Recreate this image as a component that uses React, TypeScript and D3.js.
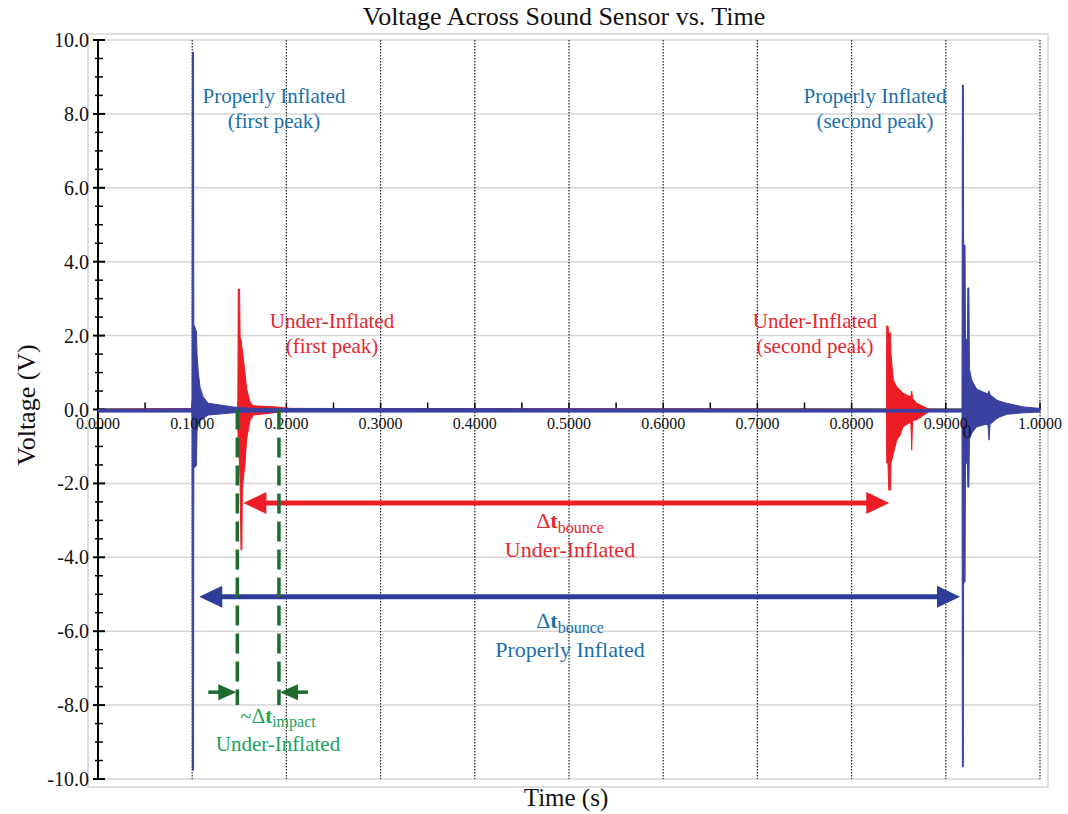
import React from "react";
import * as d3 from "d3";

// Envelope of the sound-sensor trace: properly inflated ball (blue)
const properT = [0, 0.0996, 0.0999, 0.1002, 0.1014, 0.1017, 0.1046, 0.1051, 0.1065, 0.1083, 0.1115, 0.1168, 0.1433, 0.1614, 0.9168, 0.9172, 0.9176, 0.9186, 0.9189, 0.9204, 0.9209, 0.9229, 0.9234, 0.9245, 0.9251, 0.9275, 0.9328, 0.9427, 0.9448, 0.9459, 0.947, 0.954, 0.9575, 0.9647, 0.982, 1.0];
const properHi = [0.0, 0.02, 0.3, 9.67, 9.67, 2.3, 2.1, 1.5, 1.0, 0.6, 0.35, 0.17, 0.07, 0.03, 0.0, 0.05, 8.78, 8.78, 4.45, 4.45, 1.9, 1.9, 3.29, 3.29, 1.1, 0.8, 0.55, 0.44, 0.42, 0.5, 0.4, 0.26, 0.22, 0.17, 0.07, 0.03];
const properLo = [-0.07, -0.07, -0.3, -9.76, -9.76, -1.6, -1.5, -0.6, -0.4, -0.3, -0.25, -0.15, -0.09, -0.07, -0.07, -0.08, -9.67, -9.67, -4.67, -4.67, -1.5, -1.4, -2.1, -2.1, -0.8, -0.64, -0.47, -0.4, -0.42, -0.83, -0.4, -0.25, -0.2, -0.13, -0.09, -0.07];

// Envelope of the trace for the under-inflated ball (red)
const underT = [0, 0.1481, 0.1485, 0.1489, 0.1503, 0.1509, 0.1518, 0.1527, 0.1533, 0.156, 0.1578, 0.1614, 0.1649, 0.1897, 0.2038, 0.8364, 0.837, 0.8373, 0.8386, 0.8395, 0.8413, 0.8418, 0.8443, 0.8479, 0.8514, 0.8546, 0.862, 0.863, 0.8638, 0.8648, 0.8691, 0.8797, 0.8832, 1.0];
const underHi = [0.0, 0.04, 0.3, 3.26, 3.26, 1.95, 1.9, 1.7, 1.6, 1.0, 0.55, 0.2, 0.1, 0.07, 0.03, 0.0, 0.05, 2.26, 2.26, 2.07, 2.07, 1.5, 0.8, 0.61, 0.53, 0.44, 0.35, 0.36, 0.5, 0.3, 0.17, 0.04, 0.0, 0.0];
const underLo = [-0.03, -0.04, -0.5, -1.0, -1.5, -2.1, -3.8, -3.8, -2.1, -1.5, -0.8, -0.3, -0.15, -0.08, -0.03, -0.03, -0.05, -1.45, -1.45, -2.18, -2.18, -1.45, -1.2, -0.83, -0.7, -0.47, -0.35, -0.4, -1.1, -0.3, -0.28, -0.1, -0.03, -0.03];

// Axis ticks
const xTicks = [0, 0.1, 0.2, 0.3, 0.4, 0.5, 0.6, 0.7, 0.8, 0.9, 1.0];
const xTickLabels = ["0.0000", "0.1000", "0.2000", "0.3000", "0.4000", "0.5000", "0.6000", "0.7000", "0.8000", "0.9000", "1.0000"];
const xMinorTicks = [0.05, 0.15, 0.25, 0.35, 0.45, 0.55, 0.65, 0.75, 0.85, 0.95];
const yTicks = [10, 8, 6, 4, 2, 0, -2, -4, -6, -8, -10];
const yTickLabels = ["10.0", "8.0", "6.0", "4.0", "2.0", "0.0", "-2.0", "-4.0", "-6.0", "-8.0", "-10.0"];
const yMinorTicks = [9.5, 9, 8.5, 7.5, 7, 6.5, 5.5, 5, 4.5, 3.5, 3, 2.5, 1.5, 1, 0.5, -0.5, -1, -1.5, -2.5, -3, -3.5, -4.5, -5, -5.5, -6.5, -7, -7.5, -8.5, -9, -9.5];

// Annotated intervals (time in s, voltage level in V)
const bounceUnder = [0.1543, 0.84];
const bounceUnderLevel = -2.53;
const bounceProper = [0.1075, 0.9151];
const bounceProperLevel = -5.07;
const impactUnder = [0.1479, 0.1921];
const impactArrowLevel = -7.65;
const impactLineBottom = -8.0;

const W = 1068;
const H = 814;
const FONT = "'Liberation Serif', 'Times New Roman', serif";

const BLUE_TRACE = "#3a41a0";
const RED_TRACE = "#ee1c25";
const BLUE_TEXT = "#1b6fae";
const RED_TEXT = "#e8262d";
const BLUE_ARROW = "#2f3c98";
const GREEN_TEXT = "#1aa35a";
const GREEN_MARK = "#1e6b30";

export default function App() {
  const x = d3.scaleLinear().domain([0, 1]).range([98, 1040]);
  const y = d3.scaleLinear().domain([-10, 10]).range([779, 40]);
  const y0 = y(0);

  const envelope = (t: number[], hi: number[], lo: number[]) =>
    d3
      .area<number>()
      .x((_, i) => x(t[i]))
      .y0((_, i) => y(lo[i]))
      .y1((_, i) => y(hi[i]))(t) || "";

  const properPath = envelope(properT, properHi, properLo);
  const underPath = envelope(underT, underHi, underLo);

  // double-headed horizontal arrow
  const doubleArrow = (t0: number, t1: number, v: number, color: string, key: string) => {
    const xa = x(t0);
    const xb = x(t1);
    const yy = y(v);
    const hl = 23;
    const hw = 11;
    return (
      <g key={key}>
        <line x1={xa + hl - 2} x2={xb - hl + 2} y1={yy} y2={yy} stroke={color} strokeWidth={5} />
        <polygon points={`${xa},${yy} ${xa + hl},${yy - hw} ${xa + hl},${yy + hw}`} fill={color} />
        <polygon points={`${xb},${yy} ${xb - hl},${yy - hw} ${xb - hl},${yy + hw}`} fill={color} />
      </g>
    );
  };

  const ga = x(impactUnder[0]);
  const gb = x(impactUnder[1]);
  const gy = y(impactArrowLevel);

  return (
    <svg
      width={W}
      height={H}
      viewBox={`0 0 ${W} ${H}`}
      fontFamily={FONT}
      style={{ position: "absolute", left: 0, top: 0, background: "#fff" }}
    >
      {/* frame */}
      <rect x={88} y={34} width={960} height={753} fill="none" stroke="#d4d4d4" strokeWidth={1.5} />

      {/* horizontal grid */}
      {yTicks.map((v) => (
        <line key={"gy" + v} x1={x(0)} x2={x(1)} y1={y(v)} y2={y(v)} stroke="#d6d6d6" strokeWidth={1.5} />
      ))}

      {/* vertical dotted grid */}
      {xTicks.slice(1).map((t) => (
        <line
          key={"gx" + t}
          x1={x(t)}
          x2={x(t)}
          y1={y(10)}
          y2={y(-10)}
          stroke="#222"
          strokeWidth={1.2}
          strokeDasharray="1.5,1.5"
        />
      ))}

      {/* y axis */}
      <line x1={x(0)} x2={x(0)} y1={y(10)} y2={y(-10)} stroke="#000" strokeWidth={2} />
      {yTicks.map((v) => (
        <line key={"ty" + v} x1={x(0) - 5} x2={x(0) + 7} y1={y(v)} y2={y(v)} stroke="#000" strokeWidth={2} />
      ))}
      {yMinorTicks.map((v) => (
        <line key={"my" + v} x1={x(0) - 3} x2={x(0) + 5} y1={y(v)} y2={y(v)} stroke="#000" strokeWidth={1.5} />
      ))}
      {yTicks.map((v, i) => (
        <text key={"ly" + v} x={89} y={y(v) + 7} textAnchor="end" fontSize={20} fill="#111">
          {yTickLabels[i]}
        </text>
      ))}

      {/* x axis through zero */}
      <line x1={x(0)} x2={x(1)} y1={y0} y2={y0} stroke="#000" strokeWidth={2} />
      {xTicks.concat(xMinorTicks).map((t) => (
        <line key={"tx" + t} x1={x(t)} x2={x(t)} y1={y0 - 7} y2={y0} stroke="#000" strokeWidth={1.5} />
      ))}

      {/* traces */}
      <path d={underPath} fill={RED_TRACE} stroke={RED_TRACE} strokeWidth={1} strokeLinejoin="round" />
      <path d={properPath} fill={BLUE_TRACE} stroke={BLUE_TRACE} strokeWidth={1} strokeLinejoin="round" />

      {/* x tick labels */}
      {xTicks.map((t, i) => (
        <text key={"lx" + t} x={x(t)} y={y0 + 19} textAnchor="middle" fontSize={16} fill="#111">
          {xTickLabels[i]}
        </text>
      ))}
      <text x={967} y={438} textAnchor="middle" fontSize={18} fill="#111">0</text>

      {/* peak labels */}
      <g fill={BLUE_TEXT} fontSize={21} textAnchor="middle">
        <text x={274} y={103}>Properly Inflated</text>
        <text x={274} y={128}>(first peak)</text>
        <text x={875} y={103}>Properly Inflated</text>
        <text x={875} y={128}>(second peak)</text>
      </g>
      <g fill={RED_TEXT} fontSize={21} textAnchor="middle">
        <text x={332} y={328}>Under-Inflated</text>
        <text x={332} y={353}>(first peak)</text>
        <text x={815} y={328}>Under-Inflated</text>
        <text x={815} y={353}>(second peak)</text>
      </g>

      {/* bounce intervals */}
      {doubleArrow(bounceUnder[0], bounceUnder[1], bounceUnderLevel, RED_TRACE, "au")}
      {doubleArrow(bounceProper[0], bounceProper[1], bounceProperLevel, BLUE_ARROW, "ap")}

      <g fill={RED_TEXT} textAnchor="middle" fontSize={22}>
        <text x={570} y={528}>
          Δ<tspan fontWeight="bold">t</tspan>
          <tspan fontSize={16} dy={5}>bounce</tspan>
        </text>
        <text x={570} y={557}>Under-Inflated</text>
      </g>
      <g fill={BLUE_TEXT} textAnchor="middle" fontSize={22}>
        <text x={570} y={628}>
          Δ<tspan fontWeight="bold">t</tspan>
          <tspan fontSize={16} dy={5}>bounce</tspan>
        </text>
        <text x={570} y={657}>Properly Inflated</text>
      </g>

      {/* impact interval */}
      {[ga, gb].map((gx, i) => (
        <line
          key={"gd" + i}
          x1={gx}
          x2={gx}
          y1={y0}
          y2={y(impactLineBottom)}
          stroke={GREEN_MARK}
          strokeWidth={3.5}
          strokeDasharray="20,8"
        />
      ))}
      <line x1={ga - 29} x2={ga - 12} y1={gy} y2={gy} stroke={GREEN_MARK} strokeWidth={3.5} />
      <polygon points={`${ga - 1},${gy} ${ga - 19},${gy - 8} ${ga - 19},${gy + 8}`} fill={GREEN_MARK} />
      <line x1={gb + 12} x2={gb + 29} y1={gy} y2={gy} stroke={GREEN_MARK} strokeWidth={3.5} />
      <polygon points={`${gb + 1},${gy} ${gb + 19},${gy - 8} ${gb + 19},${gy + 8}`} fill={GREEN_MARK} />

      <g fill={GREEN_TEXT} textAnchor="middle" fontSize={21}>
        <text x={278} y={723}>
          ~Δ<tspan fontWeight="bold">t</tspan>
          <tspan fontSize={16} dy={4}>impact</tspan>
        </text>
        <text x={278} y={751}>Under-Inflated</text>
      </g>

      {/* titles */}
      <text x={564} y={25} textAnchor="middle" fontSize={26} fill="#111">
        Voltage Across Sound Sensor vs. Time
      </text>
      <text x={566} y={806} textAnchor="middle" fontSize={25} fill="#111">
        Time (s)
      </text>
      <text transform="translate(35,405) rotate(-90)" textAnchor="middle" fontSize={26} fill="#111">
        Voltage (V)
      </text>
    </svg>
  );
}
